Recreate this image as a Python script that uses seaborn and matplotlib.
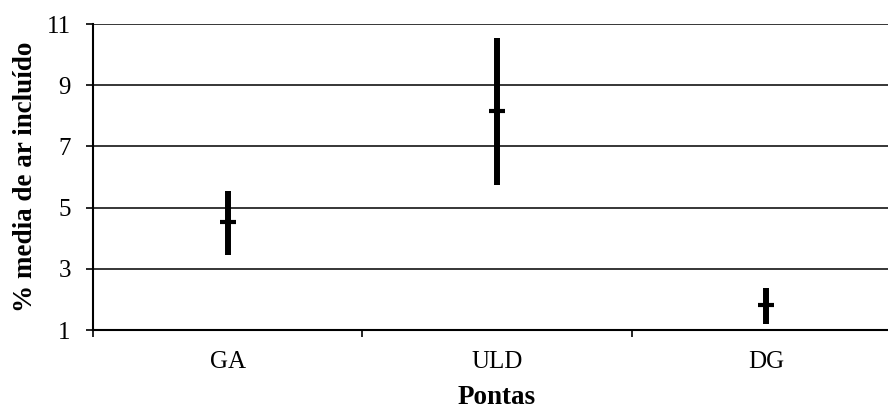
import numpy as np
import pandas as pd
import seaborn as sns
import matplotlib
matplotlib.use("Agg")
import matplotlib.pyplot as plt

# Range (min / max) and mean of entrained air per tip type
pontas = ["GA", "ULD", "DG"]
minimo = [3.45, 5.75, 1.20]
media = [4.52, 8.15, 1.82]
maximo = [5.55, 10.55, 2.37]
yticks = [1, 3, 5, 7, 9, 11]

# Long table: the median of (min, mean, max) is the mean, the 100% interval is min-max
rows = []
for p, lo, m, hi in zip(pontas, minimo, media, maximo):
    for v in (lo, m, hi):
        rows.append({"Pontas": p, "valor": v})
df = pd.DataFrame(rows)

sns.set_theme(style="white")
plt.rcParams["font.family"] = ["Liberation Serif", "DejaVu Serif"]

fig = plt.figure(figsize=(8.88, 4.11), dpi=100)
ax = fig.add_axes([0.1047, 0.197, 0.91, 0.7446])

sns.pointplot(data=df, x="Pontas", y="valor", order=pontas,
              estimator=np.median, errorbar=("pi", 100),
              color="black", linestyle="none", marker="_",
              markersize=11, markeredgewidth=3,
              err_kws={"linewidth": 4.3, "solid_capstyle": "butt"},
              ax=ax)

ax.set_ylim(1, 11)
ax.set_yticks(yticks)
ax.set_xlim(-0.5, 2.5)
ax.yaxis.grid(True, color="black", linewidth=1.1)
ax.set_axisbelow(True)

for s in ("top", "right"):
    ax.spines[s].set_visible(False)
for s in ("left", "bottom"):
    ax.spines[s].set_color("black")
    ax.spines[s].set_linewidth(1.5)

# category separators on the x axis
ax.set_xticks([-0.5, 0.5, 1.5, 2.5], minor=True)
ax.tick_params(axis="x", which="minor", bottom=True, length=5, width=1.2, color="black")
ax.tick_params(axis="x", which="major", bottom=True, length=0, pad=15, labelsize=18, labelcolor="black")
ax.tick_params(axis="y", left=True, length=5, width=1.2, color="black", pad=11,
               labelsize=18, labelcolor="black")

ax.set_xlabel("Pontas", fontsize=19.5, fontweight="bold", color="black", labelpad=8.5)
ax.set_ylabel("% media de ar incluído", fontsize=19.5, fontweight="bold", color="black", labelpad=6)

fig.savefig("out.png", dpi=100)
